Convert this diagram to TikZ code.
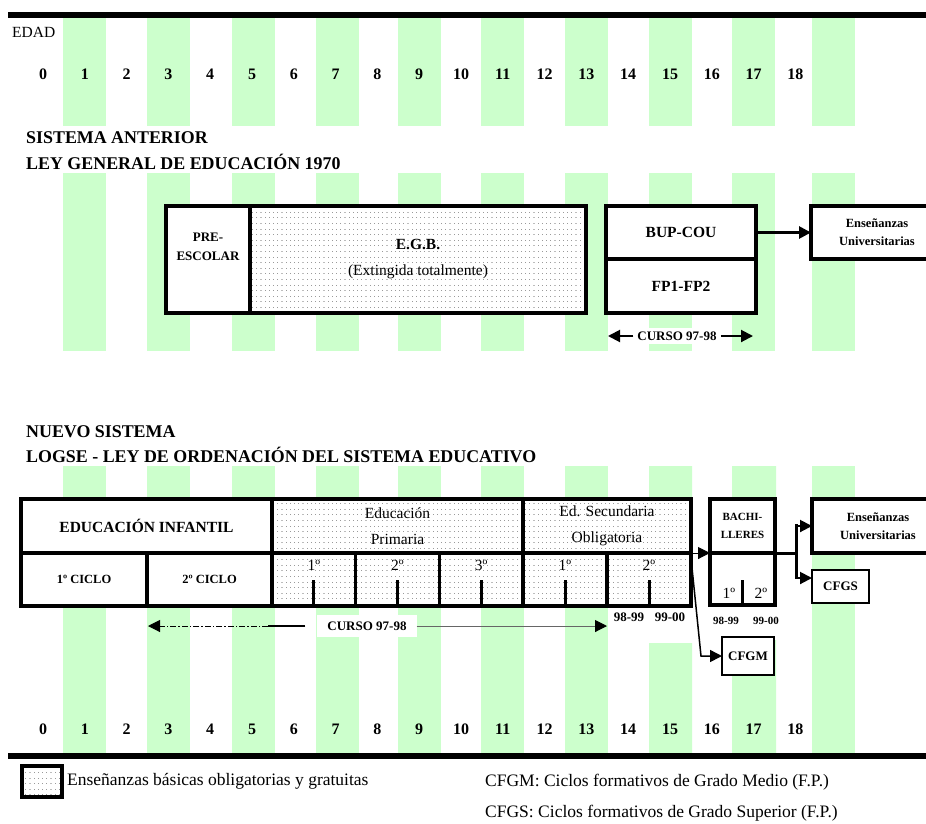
\documentclass[tikz,border=0pt]{standalone}
\usepackage{fontspec}
\setmainfont{Liberation Serif}
\usetikzlibrary{shapes.geometric, arrows, arrows.meta, positioning, patterns}

\pgfdeclarepatternformonly{smalldots}{\pgfpointorigin}{\pgfqpoint{1.2pt}{0.7pt}}{\pgfqpoint{4.2pt}{5.6pt}}{%
  \pgfpathrectangle{\pgfpointorigin}{\pgfqpoint{1.2pt}{0.7pt}}\pgfusepath{fill}}

\definecolor{stripegreen}{HTML}{CCFFCC}
\definecolor{dotgray}{HTML}{9A9A9A}

\tikzstyle{stripe} = [fill=stripegreen]
\tikzstyle{box} = [rectangle, draw=black, line width=3.2pt, fill=white, outer sep=0pt, inner sep=2pt, align=center]
\tikzstyle{dotbox} = [box, preaction={fill=white}, pattern=smalldots, pattern color=dotgray]
\tikzstyle{thinbox} = [box, line width=2pt]
\tikzstyle{arrow} = [->, >={Triangle[length=12pt, width=12pt, color=black]}]
\tikzstyle{tick} = [line width=3pt]
\tikzstyle{agenum} = [inner sep=0pt, font=\bfseries\fontsize{16}{16}\selectfont]
\tikzstyle{heading} = [anchor=west, inner sep=0pt, font=\bfseries\fontsize{17.9}{17.9}\selectfont]
\tikzstyle{yearlabel} = [inner sep=0pt, font=\fontsize{15.5}{15.5}\selectfont]
\tikzstyle{yearsmall} = [inner sep=0pt, font=\bfseries\fontsize{13}{13}\selectfont]
\tikzstyle{note} = [anchor=west, inner sep=0pt, font=\fontsize{17.5}{17.5}\selectfont]

\begin{document}
\begin{tikzpicture}[x=1pt, y=-1pt]
		\path[use as bounding box, fill=white] (0,0) rectangle (926,823);
		% age stripes
		\foreach \x in {63,147,232,316,398,481,565,649,732,812} {
			\fill[stripe] (\x,17) rectangle ++(43,109);
			\fill[stripe] (\x,173) rectangle ++(43,178);
		}
		\foreach \x in {63,147,232,316,398,481,565,812}
			\fill[stripe] (\x,466) rectangle ++(43,287);
		\fill[stripe] (649,466) rectangle (692,605) (649,643) rectangle (692,753);
		\fill[stripe] (732,466) rectangle (776,605) (732,640) rectangle (776,753);
		\fill (8,11.5) rectangle (926,17.5);
		\fill (8,753) rectangle (926,759);

		\node (edad) [anchor=west, inner sep=0pt, font=\fontsize{15.5}{15.5}\selectfont] at (12,32) {EDAD};
		\foreach \n in {0,...,18} {
			\node (ageup\n) [agenum] at ({43+41.8*\n},74) {\n};
			\node (agedown\n) [agenum] at ({43+41.8*\n},729) {\n};
		}

		\node (oldtitle) [heading] at (26,138) {SISTEMA ANTERIOR};
		\node (oldlaw) [heading] at (26,162) {LEY GENERAL DE EDUCACIÓN 1970};
		\node (newtitle) [heading] at (26,432) {NUEVO SISTEMA};
		\node (newlaw) [heading] at (26,455) {LOGSE - LEY DE ORDENACIÓN DEL SISTEMA EDUCATIVO};

		% sistema anterior
		\node (pre) [box, minimum width=84pt, minimum height=107pt, font=\bfseries\fontsize{13}{19}\selectfont] at (208,259.5) {PRE-\\ESCOLAR\\[6pt]};
		\node (egb) [dotbox, right=0pt of pre, minimum width=336pt, minimum height=107pt, font=\fontsize{15.5}{26}\selectfont] {\textbf{E.G.B.}\\(Extingida totalmente)};
		\node (bup) [box, minimum width=150pt, minimum height=53pt, font=\bfseries\fontsize{15.5}{15.5}\selectfont] at (681,232.5) {BUP-COU};
		\node (fp) [box, below=0pt of bup, minimum width=150pt, minimum height=54pt, font=\bfseries\fontsize{15.5}{15.5}\selectfont] {FP1-FP2};
		\node (univa) [box, minimum width=132pt, minimum height=53pt, font=\bfseries\fontsize{12.5}{18}\selectfont] at (877,232.5) {Enseñanzas\\Universitarias};
		\draw [arrow, line width=2.7pt] (bup) -- (univa);
		\node (cursoa) [fill=white, inner sep=4pt, font=\bfseries\fontsize{13}{13}\selectfont] at (677,336) {CURSO 97-98};
		\coordinate (cursoaleft) at (608,336);
		\coordinate (cursoaright) at (753,336);
		\draw [arrow, line width=2pt] (cursoa) -- (cursoaleft);
		\draw [arrow, line width=2pt] (cursoa) -- (cursoaright);

		% nuevo sistema
		\node (inf) [box, minimum width=251pt, minimum height=54pt, font=\bfseries\fontsize{15.5}{15.5}\selectfont] at (146.5,526) {EDUCACIÓN INFANTIL};
		\node (prim) [dotbox, right=0pt of inf, minimum width=251pt, minimum height=54pt, font=\fontsize{15.5}{26}\selectfont] {Educación\\Primaria};
		\node (eso) [dotbox, right=0pt of prim, minimum width=168pt, minimum height=54pt, font=\fontsize{15.5}{26}\selectfont] {Ed. Secundaria\\Obligatoria};
		\node (cicloa) [box, below right=0pt of inf.south west, minimum width=126pt, minimum height=53pt, font=\bfseries\fontsize{12.5}{12.5}\selectfont] {1º CICLO};
		\node (ciclob) [box, right=0pt of cicloa, minimum width=125pt, minimum height=53pt, font=\bfseries\fontsize{12.5}{12.5}\selectfont] {2º CICLO};
		\node (pa) [dotbox, below right=0pt of prim.south west, minimum width=83.67pt, minimum height=53pt] {};
		\node (pb) [dotbox, right=0pt of pa, minimum width=83.67pt, minimum height=53pt] {};
		\node (pc) [dotbox, right=0pt of pb, minimum width=83.67pt, minimum height=53pt] {};
		\node (ea) [dotbox, below right=0pt of eso.south west, minimum width=84pt, minimum height=53pt] {};
		\node (eb) [dotbox, right=0pt of ea, minimum width=84pt, minimum height=53pt] {};
		\foreach \c/\t in {pa/1º, pb/2º, pc/3º, ea/1º, eb/2º} {
			\draw [tick] (\c.south) -- ++(0,-26);
			\node (\c-lab) [yearlabel, below=7pt of \c.north] {\t};
		}
		\node (esoya) [yearsmall] at (629,617) {98-99};
		\node (esoyb) [yearsmall] at (670,617) {99-00};

		\node (bacha) [box, minimum width=65pt, minimum height=54pt, font=\bfseries\fontsize{11}{18}\selectfont] at (742.5,526) {BACHI-\\LLERES};
		\node (bachb) [box, below=0pt of bacha, minimum width=65pt, minimum height=52pt] {};
		\draw [tick] (bachb.south) -- ++(0,-25);
		\node (bachone) [yearlabel] at (729,593) {1º};
		\node (bachtwo) [yearlabel] at (761,593) {2º};
		\node (bachya) [yearsmall, font=\bfseries\fontsize{11}{11}\selectfont] at (726,621) {98-99};
		\node (bachyb) [yearsmall, font=\bfseries\fontsize{11}{11}\selectfont] at (766,621) {99-00};

		\node (univb) [box, minimum width=132pt, minimum height=54pt, font=\bfseries\fontsize{12.5}{18}\selectfont] at (878,526) {Enseñanzas\\Universitarias};
		\node (cfgs) [thinbox, minimum width=57pt, minimum height=33pt, font=\bfseries\fontsize{13}{13}\selectfont] at (840.5,586.5) {CFGS};
		\node (cfgm) [thinbox, minimum width=52pt, minimum height=38pt, font=\bfseries\fontsize{13}{13}\selectfont] at (748,656) {CFGM};

		\draw [arrow, line width=1pt] (eso.south east) -- (bacha.south west);
		\coordinate (split) at (796,553);
		\draw [line width=3pt] (bacha.south east) -- (split);
		\draw [line width=3pt] (796,524) -- (796,579);
		\draw [arrow, line width=2pt] (split) |- (univb.west);
		\draw [arrow, line width=2pt] (split) |- ([yshift=8.5pt]cfgs.west);
		\coordinate (gmbend) at (701,656);
		\draw [arrow, line width=1.5pt] ([yshift=-5pt]eb.north east) -- (gmbend) -- (cfgm.west);

		\node (cursob) [fill=white, inner xsep=10pt, inner ysep=7pt, font=\bfseries\fontsize{13}{13}\selectfont] at (367,626) {CURSO 97-98};
		\coordinate (cursobleft) at (148,626);
		\coordinate (cursobdash) at (268,626);
		\coordinate (cursobright) at (607,626);
		\draw [line width=1.5pt] ([xshift=-12pt]cursob.west) -- (cursobdash);
		\draw [arrow, line width=1pt, dash pattern=on 6pt off 2pt on 1.5pt off 2pt] (cursobdash) -- (cursobleft);
		\draw [arrow, line width=1pt, draw=black!60] (cursob.east) -- (cursobright);

		% leyenda
		\node (legbox) [dotbox, line width=4pt, minimum width=40pt, minimum height=31pt] at (42,781.5) {};
		\node (legtext) [note, right=5pt of legbox] {Enseñanzas básicas obligatorias y gratuitas};
		\node (cfgmnote) [note] at (485,782) {CFGM: Ciclos formativos de Grado Medio (F.P.)};
		\node (cfgsnote) [note] at (485,813) {CFGS: Ciclos formativos de Grado Superior (F.P.)};
	\end{tikzpicture}
\end{document}
